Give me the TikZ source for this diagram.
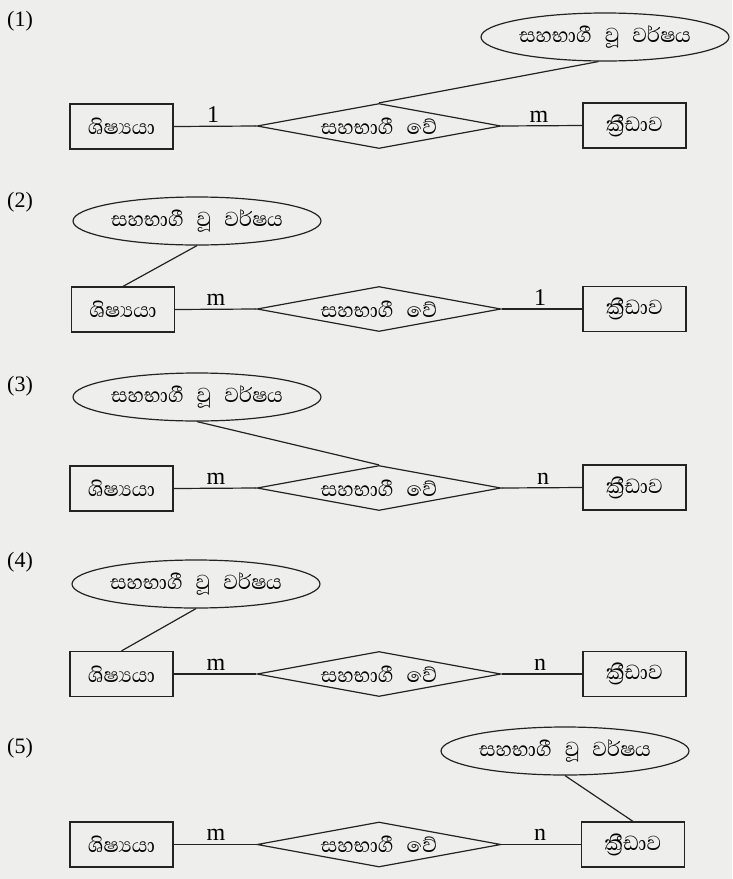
\documentclass[tikz,border=0pt]{standalone}
\usepackage{fontspec}
\setmainfont{Liberation Serif}
\newfontfamily\sinhalafont[Script=Sinhala,WordSpace=2.6]{Abhaya Libre}
\definecolor{paper}{RGB}{238,238,236}
\definecolor{ink}{RGB}{35,35,35}
\usetikzlibrary{shapes.geometric}

\begin{document}
\begin{tikzpicture}[x=1pt,y=-1pt,
    entity/.style={draw=ink,line width=1.2pt,rectangle,minimum width=103pt,minimum height=45pt,
                   inner sep=0pt,font=\sinhalafont\fontsize{26}{26}\selectfont},
    relation/.style={draw=ink,line width=1.2pt,diamond,aspect=5.4,minimum width=244pt,minimum height=45pt,
                     inner sep=0pt,font=\sinhalafont\fontsize{26}{26}\selectfont},
    attrib/.style={draw=ink,line width=1.2pt,ellipse,minimum width=248pt,minimum height=48pt,
                   inner sep=0pt,font=\sinhalafont\fontsize{26}{26}\selectfont},
    card/.style={anchor=base,inner sep=0pt,font=\fontsize{24}{24}\selectfont},
    qnum/.style={anchor=west,inner sep=0pt,font=\fontsize{22}{22}\selectfont},
    link/.style={draw=ink,line width=1.2pt}]
  \fill[paper] (0,0) rectangle (732,879);
  \useasboundingbox (0,0) rectangle (732,879);

  % (1)
  \node[qnum] (q1) at (7,21) {(1)};
  \node[entity]   (st1) at (121.5,126.5) {ශිෂ්‍යයා};
  \node[relation] (rl1) at (379,126) {සහභාගී වේ};
  \node[entity]   (sp1) at (634.5,125.5) {ක්‍රීඩාව};
  \node[attrib]   (yr1) at (605,37) {සහභාගී වූ වර්ෂය};
  \draw[link] (st1.east) -- (rl1.west);
  \draw[link] (rl1.east) -- (sp1.west);
  \draw[link] (yr1.255) -- (rl1.north);
  \node[card] (c1a) at (213,122) {1};
  \node[card] (c1b) at (539,122) {m};

  % (2)
  \node[qnum] (q2) at (7,202) {(2)};
  \node[entity]   (st2) at (123,309.5) {ශිෂ්‍යයා};
  \node[relation] (rl2) at (379,309) {සහභාගී වේ};
  \node[entity]   (sp2) at (634.5,309) {ක්‍රීඩාව};
  \node[attrib]   (yr2) at (197,221) {සහභාගී වූ වර්ෂය};
  \draw[link] (st2.east) -- (rl2.west);
  \draw[link] (rl2.east) -- (sp2.west);
  \draw[link] (yr2.south) -- (st2.north);
  \node[card] (c2a) at (216,305) {m};
  \node[card] (c2b) at (540,305) {1};

  % (3)
  \node[qnum] (q3) at (7,386) {(3)};
  \node[entity]   (st3) at (121.5,488.5) {ශිෂ්‍යයා};
  \node[relation] (rl3) at (379,488) {සහභාගී වේ};
  \node[entity]   (sp3) at (634.5,487.5) {ක්‍රීඩාව};
  \node[attrib]   (yr3) at (197,397) {සහභාගී වූ වර්ෂය};
  \draw[link] (st3.east) -- (rl3.west);
  \draw[link] (rl3.east) -- (sp3.west);
  \draw[link] (yr3.south) -- (rl3.north);
  \node[card] (c3a) at (216,484) {m};
  \node[card] (c3b) at (543,484) {n};

  % (4)
  \node[qnum] (q4) at (7,562) {(4)};
  \node[entity]   (st4) at (121.5,674) {ශිෂ්‍යයා};
  \node[relation] (rl4) at (379,674) {සහභාගී වේ};
  \node[entity]   (sp4) at (634.5,674) {ක්‍රීඩාව};
  \node[attrib]   (yr4) at (196,584) {සහභාගී වූ වර්ෂය};
  \draw[link] (st4.east) -- (rl4.west);
  \draw[link] (rl4.east) -- (sp4.west);
  \draw[link] (yr4.south) -- (st4.north);
  \node[card] (c4a) at (216,670) {m};
  \node[card] (c4b) at (540,670) {n};

  % (5)
  \node[qnum] (q5) at (7,748) {(5)};
  \node[entity]   (st5) at (121.5,844.5) {ශිෂ්‍යයා};
  \node[relation] (rl5) at (379,844.5) {සහභාගී වේ};
  \node[entity]   (sp5) at (633,844.5) {ක්‍රීඩාව};
  \node[attrib]   (yr5) at (565,751) {සහභාගී වූ වර්ෂය};
  \draw[link] (st5.east) -- (rl5.west);
  \draw[link] (rl5.east) -- (sp5.west);
  \draw[link] (yr5.south) -- (sp5.north);
  \node[card] (c5a) at (216,840) {m};
  \node[card] (c5b) at (540,840) {n};
\end{tikzpicture}
\end{document}
